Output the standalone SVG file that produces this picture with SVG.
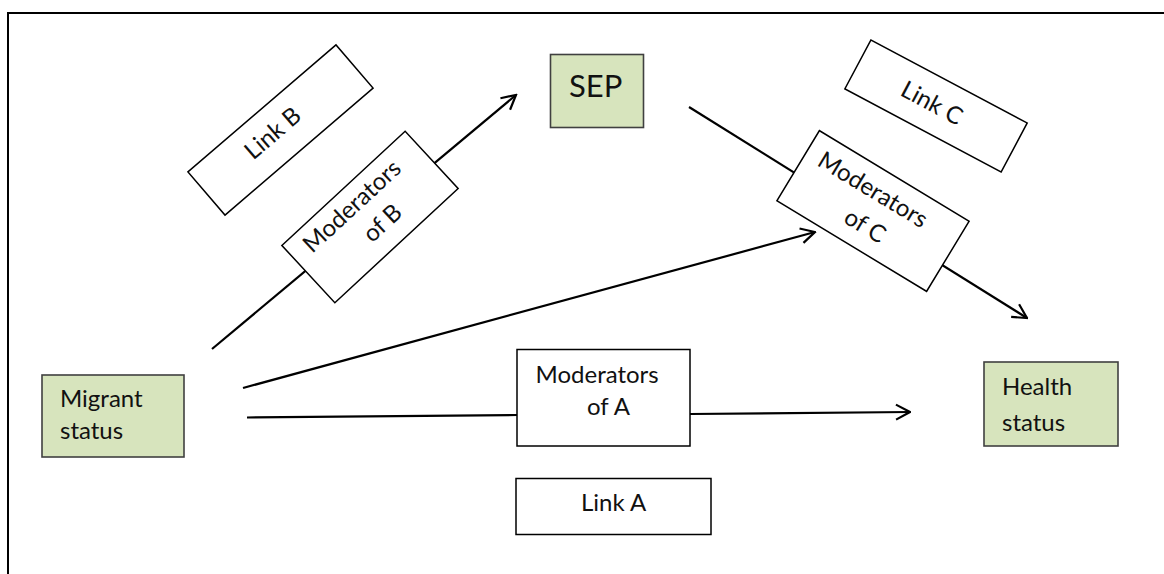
<svg xmlns="http://www.w3.org/2000/svg" width="1164" height="574" viewBox="0 0 1164 574">
<defs>
<style>
.frame{fill:none;stroke:#000;stroke-width:2}
.conn{fill:none;stroke:#000;stroke-width:2.2}
.green{fill:#d7e4bd;stroke:#404040;stroke-width:1.6}
.white{fill:#fff;stroke:#000;stroke-width:1.5}
.t{font-family:Lato,"Open Sans","Liberation Sans",sans-serif;font-size:24px;fill:#111}
.big{font-size:31px}
</style>
<marker id="arr" viewBox="0 0 17 18" refX="15.5" refY="9" markerWidth="17" markerHeight="18" markerUnits="userSpaceOnUse" orient="auto">
<path d="M1.5,1.5 L15.5,9 L1.5,16.5" fill="none" stroke="#000" stroke-width="2.2"/>
</marker>
</defs>
<rect width="1164" height="574" fill="#fff"/>
<path class="frame" d="M8,576 V13 H1166"/>
<g id="connectors">
<line class="conn" x1="212" y1="349" x2="516" y2="95" marker-end="url(#arr)"/>
<line class="conn" x1="689" y1="107" x2="1027" y2="318" marker-end="url(#arr)"/>
<line class="conn" x1="243" y1="388" x2="815" y2="232" marker-end="url(#arr)"/>
<line class="conn" x1="247" y1="417.5" x2="517" y2="415"/>
<line class="conn" x1="690" y1="414" x2="910" y2="412" marker-end="url(#arr)"/>
</g>
<g id="migrant">
<rect class="green" x="42" y="375" width="142" height="82"/>
<text class="t" x="60" y="407">Migrant</text>
<text class="t" x="60" y="439">status</text>
</g>
<g id="health">
<rect class="green" x="984" y="362" width="134" height="84"/>
<text class="t" x="1002" y="395">Health</text>
<text class="t" x="1002" y="431">status</text>
</g>
<g id="sep">
<rect class="green" x="550.5" y="54.5" width="93" height="73"/>
<text class="t big" x="569" y="97">SEP</text>
</g>
<g id="modA">
<rect class="white" x="517" y="349.5" width="173" height="96.5"/>
<text class="t" x="535.5" y="383">Moderators</text>
<text class="t" x="587" y="415">of A</text>
</g>
<g id="linkA">
<rect class="white" x="516" y="478.5" width="195" height="56"/>
<text class="t" x="581" y="511">Link A</text>
</g>
<g id="linkB" transform="translate(280.5,130) rotate(-40.6)">
<rect class="white" x="-97.5" y="-28.5" width="195" height="57"/>
<text class="t" x="-8" y="5.5" text-anchor="middle">Link B</text>
</g>
<g id="modB" transform="translate(370,217) rotate(-42.8)">
<rect class="white" x="-84" y="-39" width="168" height="78"/>
<text class="t" x="-67.5" y="-12">Moderators</text>
<text class="t" x="-16.5" y="21">of B</text>
</g>
<g id="linkC" transform="translate(936,106) rotate(28)">
<rect class="white" x="-88.5" y="-27.8" width="177" height="55.5"/>
<text class="t" x="-5" y="7.5" text-anchor="middle">Link C</text>
</g>
<g id="modC" transform="translate(873,211) rotate(31.2)">
<rect class="white" x="-87.5" y="-41" width="175" height="82"/>
<text class="t" x="-11" y="-10" text-anchor="middle">Moderators</text>
<text class="t" x="1" y="25" text-anchor="middle">of C</text>
</g>
</svg>
